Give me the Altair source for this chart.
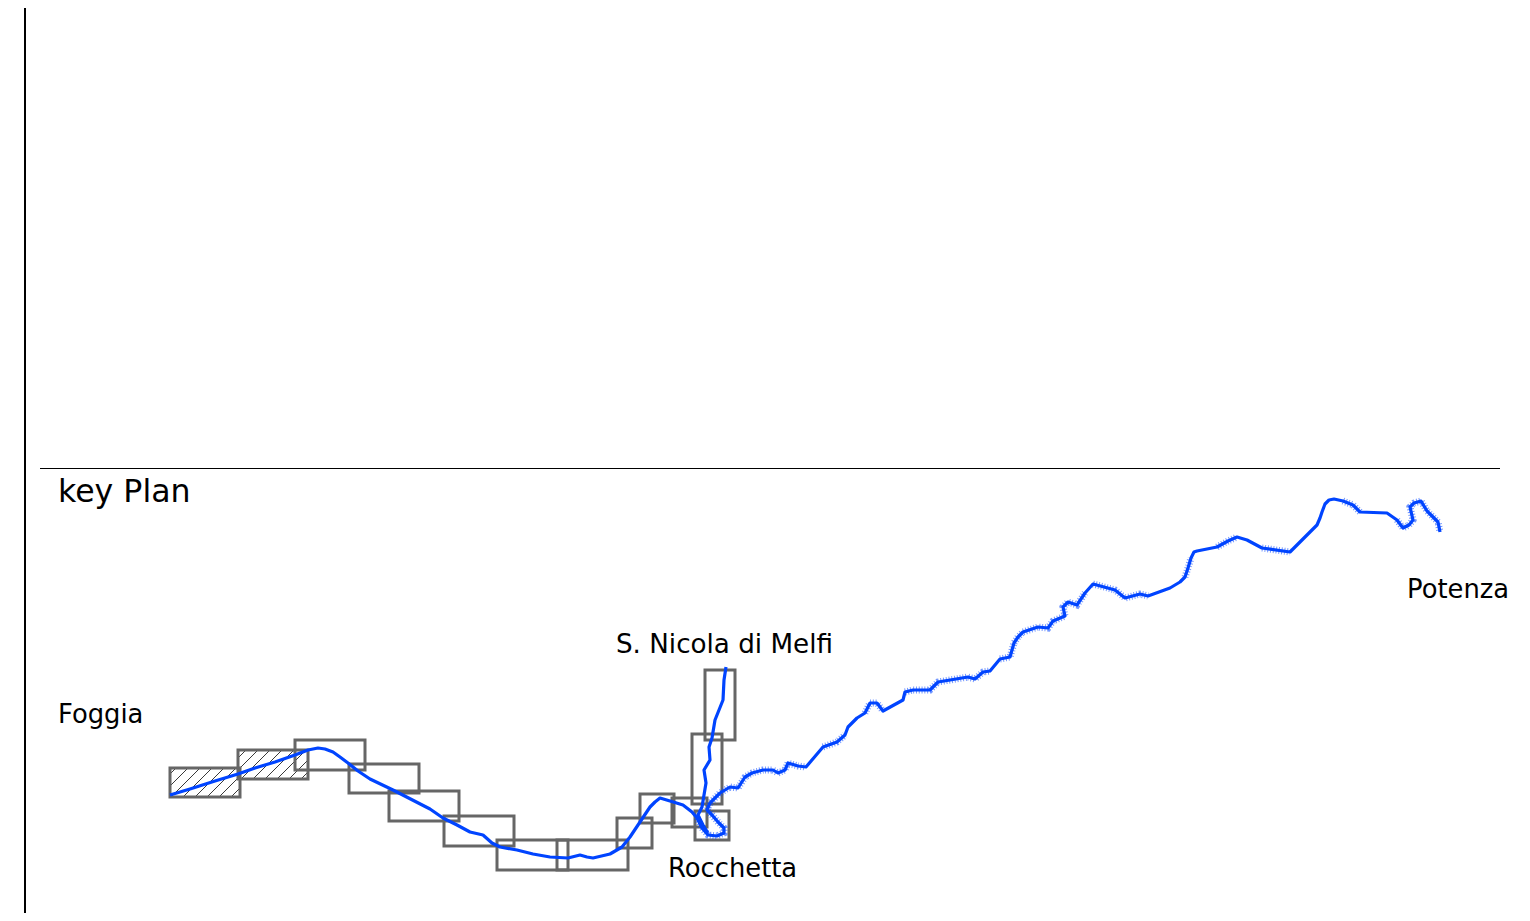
import altair as alt
import pandas as pd

X0, X1, Y0, Y1 = 8, 1522, 8, 913

# Route
main_x = [170,190,215,238,255,275,295,308,318,325,333,340,348,358,370,393,430,443,457,470,483,492,500,517,533,550,568,580,587,593,610,622,630,640,650,655,660,670,683,692,697,702,708,717,724,724,718,712,707,
          710,720,730,738,745,752,763,773,778,785,788,798,806,823,837,845,848,857,865,870,877,883,903,905,913,930,938,950,968,975,983,990,1000,1010,1012,1014,1018,1023,1038,1048,1053,1065,1063,1068,1077,1085,1093,1115,1120,1125,1140,1148,1170,1180,1185,1188,1191,1194,1197,1217,1228,1237,1247,1262,1290,1317,1320,1322,1325,1329,1334,1343,1353,1360,1387,1397,1403,1409,1413,1410,1414,1421,1427,1438,1440]
main_y = [795,789,781,774,768,762,755,750,748,749,752,757,763,771,779,790,809,818,825,832,835,843,847,850,854,857,858,855,857,858,854,847,837,822,807,802,798,801,805,812,818,828,835,836,833,828,822,815,810,
          803,793,787,788,777,773,770,770,773,770,763,766,767,747,742,735,727,718,713,703,703,711,700,692,690,690,682,680,677,679,672,671,659,657,650,643,637,632,627,628,621,616,607,602,605,593,584,590,594,598,594,596,588,582,577,568,558,552,551,547,541,537,540,548,552,525,518,512,504,500,499,501,505,512,513,520,528,525,520,507,503,501,511,522,532]
branch_x = [726,724,723,715,712,709,710,704,706,702,698,703,708]
branch_y = [667,680,700,720,738,747,760,770,783,807,815,825,833]

# Stretches of the route drawn with a rough, ragged edge: start x, end x
rough_from = [697,823,860,905,1000,1093,1185,1217,1253,1340,1395]
rough_to = [806,845,885,990,1085,1148,1192,1240,1290,1360,1440]

# Sheet boxes: left, right, top, bottom
box_l = [170,238,295,349,389,444,497,557,617,640,672,695,692,705]
box_r = [240,308,365,419,459,514,568,628,652,674,707,729,722,735]
box_t = [768,750,740,764,791,816,840,840,818,794,798,811,734,670]
box_b = [797,779,770,793,821,846,870,870,848,823,827,840,804,740]

# 45-degree hatching of the first two boxes: x + y intercepts
hatch_1 = [944,956,968,980,992,1004,1016,1028]
hatch_2 = [996,1008,1020,1032,1044,1056,1068,1080]

labels = ["key Plan", "Foggia", "S. Nicola di Melfi", "Rocchetta", "Potenza"]
label_x = [58, 58, 616, 668, 1407]
label_y = [502, 723, 653, 877, 598]
label_size = [31.6, 25.8, 26.2, 25.8, 25.8]

rule_x = [25, 40]
rule_x2 = [25, 1500]
rule_y = [8, 468.5]
rule_y2 = [913, 468.5]
rule_w = [2, 1]

hatch_rows = []
for ints, i in ((hatch_1, 0), (hatch_2, 1)):
    l, r, t, b = box_l[i], box_r[i], box_t[i], box_b[i]
    for c in ints:
        xa = max(l, c - b); xb = min(r, c - t)
        if xb > xa:
            hatch_rows.append(dict(x=xa, y=c - xa, x2=xb, y2=c - xb))

sx = alt.Scale(domain=[X0, X1], range=[0, X1 - X0], nice=False, zero=False)
sy = alt.Scale(domain=[Y0, Y1], range=[0, Y1 - Y0], nice=False, zero=False)
X = lambda f: alt.X(f, type="quantitative", scale=sx, axis=None)
Y = lambda f: alt.Y(f, type="quantitative", scale=sy, axis=None)

route = pd.DataFrame(
    [dict(x=a, y=b, o=i, s="m") for i, (a, b) in enumerate(zip(main_x, main_y))]
    + [dict(x=a, y=b, o=i, s="b") for i, (a, b) in enumerate(zip(branch_x, branch_y))]
)
rough_rows = []
for g, (a, b) in enumerate(zip(rough_from, rough_to)):
    for i, (x, y) in enumerate(zip(main_x, main_y)):
        if a <= x <= b:
            rough_rows.append(dict(x=x, y=y, o=i, g=g))
rough = pd.DataFrame(rough_rows)
boxes = pd.DataFrame(dict(l=box_l, r=box_r, t=box_t, b=box_b))
hatch = pd.DataFrame(hatch_rows)
texts = pd.DataFrame(dict(t=labels, x=label_x, y=label_y, z=label_size))
rules = pd.DataFrame(dict(x=rule_x, x2=rule_x2, y=rule_y, y2=rule_y2, w=rule_w))

hatch_layer = alt.Chart(hatch).mark_rule(color="#222222", strokeWidth=0.9).encode(
    x=X("x"), y=Y("y"), x2="x2", y2="y2")
box_layer = alt.Chart(boxes).mark_rect(fillOpacity=0, stroke="#666666", strokeWidth=3).encode(
    x=X("l"), x2="r", y=Y("t"), y2="b")
halo = alt.Chart(rough).mark_line(
    color="#0044ff", strokeWidth=7, opacity=0.55, strokeDash=[1, 1.8]).encode(
    x=X("x"), y=Y("y"), detail="g:N", order="o:Q")
line = alt.Chart(route).mark_line(
    color="#0044ff", strokeWidth=3.2, strokeJoin="round").encode(
    x=X("x"), y=Y("y"), detail="s:N", order="o:Q")
rule_layer = alt.Chart(rules).mark_rule(color="#000000").encode(
    x=X("x"), x2="x2", y=Y("y"), y2="y2",
    strokeWidth=alt.StrokeWidth("w:Q", scale=None, legend=None))
text_layer = alt.Chart(texts).mark_text(
    font="DejaVu Sans", align="left", baseline="alphabetic", color="#000000"
).encode(x=X("x"), y=Y("y"), text="t:N",
         size=alt.Size("z:Q", scale=None, legend=None))

chart = alt.layer(
    rule_layer, hatch_layer, box_layer, halo, line, text_layer
).properties(
    width=X1 - X0, height=Y1 - Y0, padding=0,
    autosize=alt.AutoSizeParams(type="none"),
).configure_view(stroke=None)

chart.save("out.html", embed_options={"renderer": "svg", "actions": False})
